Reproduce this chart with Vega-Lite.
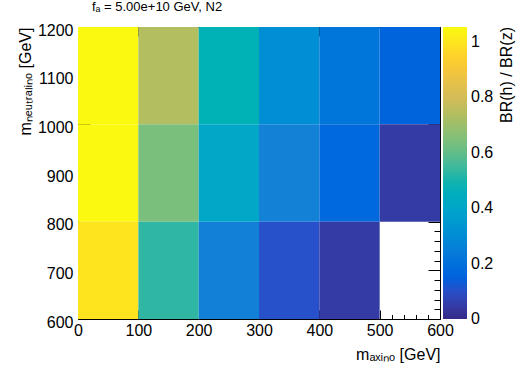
{
  "$schema": "https://vega.github.io/schema/vega-lite/v6.json",
  "width": 362,
  "height": 292,
  "autosize": "none",
  "padding": {"left": 78, "top": 27, "right": 80, "bottom": 48},
  "background": "white",
  "config": {
    "font": "Liberation Sans",
    "view": {"stroke": "black", "strokeWidth": 1},
    "axis": {"domain": false, "grid": false, "zindex": 1, "labelFont": "Liberation Sans", "titleFont": "Liberation Sans", "labelColor": "black", "titleColor": "black", "tickColor": "black", "labelFontSize": 16, "titleFontSize": 16, "titleFontWeight": "normal"},
    "legend": {"labelFont": "Liberation Sans", "titleFont": "Liberation Sans", "labelColor": "black", "titleColor": "black"}
  },
  "title": {"text": "fₐ = 5.00e+10 GeV, N2", "anchor": "start", "frame": "group", "dx": 14, "offset": 8, "fontSize": 13, "fontWeight": "normal", "font": "Liberation Sans", "color": "black"},
  "data": {"values": [
    {"xlo": 0, "xhi": 100, "ylo": 1000, "yhi": 1200, "v": 1.05},
    {"xlo": 100, "xhi": 200, "ylo": 1000, "yhi": 1200, "v": 0.74},
    {"xlo": 200, "xhi": 300, "ylo": 1000, "yhi": 1200, "v": 0.478},
    {"xlo": 300, "xhi": 400, "ylo": 1000, "yhi": 1200, "v": 0.312},
    {"xlo": 400, "xhi": 500, "ylo": 1000, "yhi": 1200, "v": 0.217},
    {"xlo": 500, "xhi": 600, "ylo": 1000, "yhi": 1200, "v": 0.16},
    {"xlo": 0, "xhi": 100, "ylo": 800, "yhi": 1000, "v": 1.05},
    {"xlo": 100, "xhi": 200, "ylo": 800, "yhi": 1000, "v": 0.64},
    {"xlo": 200, "xhi": 300, "ylo": 800, "yhi": 1000, "v": 0.41},
    {"xlo": 300, "xhi": 400, "ylo": 800, "yhi": 1000, "v": 0.265},
    {"xlo": 400, "xhi": 500, "ylo": 800, "yhi": 1000, "v": 0.174},
    {"xlo": 500, "xhi": 600, "ylo": 800, "yhi": 1000, "v": 0.047},
    {"xlo": 0, "xhi": 100, "ylo": 600, "yhi": 800, "v": 0.995},
    {"xlo": 100, "xhi": 200, "ylo": 600, "yhi": 800, "v": 0.53},
    {"xlo": 200, "xhi": 300, "ylo": 600, "yhi": 800, "v": 0.26},
    {"xlo": 300, "xhi": 400, "ylo": 600, "yhi": 800, "v": 0.105},
    {"xlo": 400, "xhi": 500, "ylo": 600, "yhi": 800, "v": 0.047}
  ]},
  "resolve": {"axis": {"x": "independent", "y": "independent"}},
  "layer": [
    {
      "mark": {"type": "rect"},
      "encoding": {
        "x": {"field": "xlo", "type": "quantitative", "scale": {"domain": [0, 600], "nice": false, "zero": false},
          "axis": {"orient": "bottom", "values": [0, 100, 200, 300, 400, 500, 600], "format": "d", "ticks": false, "labelPadding": 3, "labelFlush": false, "title": "mₐₓᵢₙₒ [GeV]", "titleAnchor": "end", "titlePadding": 8}},
        "x2": {"field": "xhi"},
        "y": {"field": "ylo", "type": "quantitative", "scale": {"domain": [600, 1200], "nice": false, "zero": false},
          "axis": {"orient": "left", "values": [600, 700, 800, 900, 1000, 1100, 1200], "format": "d", "ticks": false, "labelPadding": 5, "labelOffset": 3, "labelFlush": false, "title": "mₙₑᵤₜᵣₐₗᵢₙₒ [GeV]", "titleAnchor": "end", "titlePadding": 4}},
        "y2": {"field": "yhi"},
        "color": {"field": "v", "type": "quantitative",
          "scale": {"domain": [0, 0.13175, 0.2635, 0.39525, 0.527, 0.65875, 0.7905, 0.92225, 1.054],
            "range": ["#352a87", "#0f5cdd", "#1481d6", "#06a4ca", "#2eb7a4", "#87bf77", "#d1bb59", "#fec832", "#f9fb0e"]},
          "legend": {"title": "BR(h) / BR(z)", "orient": "right", "offset": 2, "type": "gradient", "direction": "vertical",
            "gradientLength": 292, "gradientThickness": 24, "gradientStrokeWidth": 0,
            "values": [0, 0.2, 0.4, 0.6, 0.8, 1], "format": "~g", "labelFontSize": 16, "labelOffset": 4, "labelBaseline": "middle",
            "titleFontSize": 16, "titleFontWeight": "normal", "titleOrient": "right", "titleAnchor": "end", "titleAlign": "right", "titleBaseline": "top", "titlePadding": 6,
            "encode": {"title": {"update": {"angle": {"value": 270}}}, "labels": {"update": {"baseline": {"value": "middle"}}}}}}
      }
    },
    {
      "mark": {"type": "point", "opacity": 0},
      "encoding": {
        "x": {"field": "xlo", "type": "quantitative",
          "axis": {"orient": "bottom", "values": [0, 20, 40, 60, 80, 100, 120, 140, 160, 180, 200, 220, 240, 260, 280, 300, 320, 340, 360, 380, 400, 420, 440, 460, 480, 500, 520, 540, 560, 580, 600],
            "labels": false, "title": null, "tickSize": {"condition": {"test": "datum.value % 100 === 0", "value": -9}, "value": -4.5}}},
        "y": {"field": "ylo", "type": "quantitative",
          "axis": {"orient": "left", "values": [600, 620, 640, 660, 680, 700, 720, 740, 760, 780, 800, 820, 840, 860, 880, 900, 920, 940, 960, 980, 1000, 1020, 1040, 1060, 1080, 1100, 1120, 1140, 1160, 1180, 1200],
            "labels": false, "title": null, "tickSize": {"condition": {"test": "datum.value % 100 === 0", "value": -12}, "value": -6}}}
      }
    },
    {
      "mark": {"type": "point", "opacity": 0},
      "encoding": {
        "x": {"field": "xlo", "type": "quantitative",
          "axis": {"orient": "top", "values": [0, 20, 40, 60, 80, 100, 120, 140, 160, 180, 200, 220, 240, 260, 280, 300, 320, 340, 360, 380, 400, 420, 440, 460, 480, 500, 520, 540, 560, 580, 600],
            "labels": false, "title": null, "tickSize": {"condition": {"test": "datum.value % 100 === 0", "value": -9}, "value": -4.5}}},
        "y": {"field": "ylo", "type": "quantitative",
          "axis": {"orient": "right", "values": [600, 620, 640, 660, 680, 700, 720, 740, 760, 780, 800, 820, 840, 860, 880, 900, 920, 940, 960, 980, 1000, 1020, 1040, 1060, 1080, 1100, 1120, 1140, 1160, 1180, 1200],
            "labels": false, "title": null, "minExtent": 0, "tickSize": {"condition": {"test": "datum.value % 100 === 0", "value": -12}, "value": -6}}}
      }
    }
  ]
}
